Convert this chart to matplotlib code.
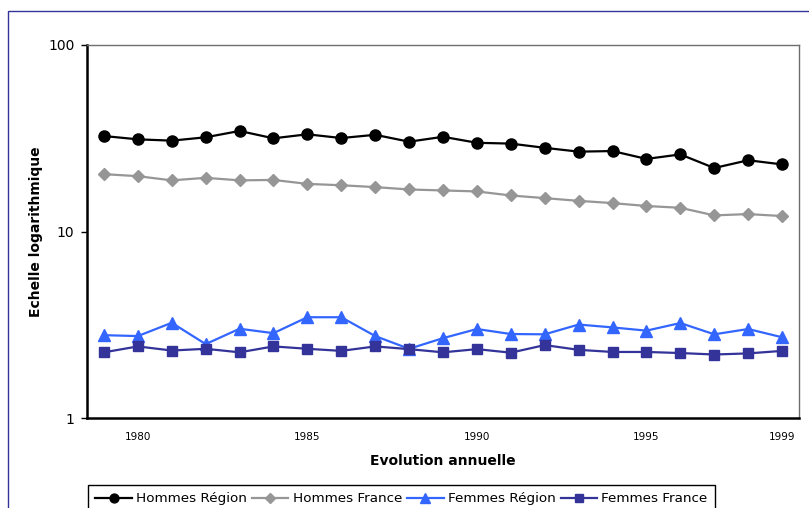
import matplotlib
matplotlib.use("Agg")
import matplotlib.pyplot as plt
from matplotlib.patches import Rectangle

# annual series, log scale
years = list(range(1979, 2000))
hommes_region = [32.5, 31.2, 30.7, 32.0, 34.6, 31.6, 33.2, 31.7, 33.0, 30.3, 32.2,
                 29.9, 29.6, 28.1, 26.8, 27.0, 24.5, 25.9, 21.9, 24.1, 22.9]
hommes_france = [20.3, 19.8, 18.8, 19.4, 18.8, 18.9, 18.0, 17.7, 17.3, 16.8, 16.6,
                 16.4, 15.6, 15.1, 14.6, 14.2, 13.7, 13.4, 12.2, 12.4, 12.1]
femmes_region = [2.78, 2.75, 3.24, 2.49, 3.01, 2.85, 3.47, 3.47, 2.75, 2.35, 2.68,
                 3.00, 2.82, 2.81, 3.17, 3.06, 2.94, 3.23, 2.81, 3.00, 2.71]
femmes_france = [2.25, 2.42, 2.30, 2.35, 2.25, 2.42, 2.35, 2.29, 2.42, 2.34, 2.25,
                 2.34, 2.24, 2.46, 2.32, 2.26, 2.26, 2.23, 2.19, 2.22, 2.29]
xticks = [1980, 1985, 1990, 1995, 1999]

W, H = 809, 508
fig = plt.figure(figsize=(W / 100, H / 100), dpi=100)
ax = fig.add_axes([87 / W, (H - 418) / H, (799 - 87) / W, (418 - 45) / H])

ax.plot(years, hommes_region, color="black", lw=1.6, marker="o", ms=8,
        label="Hommes Région")
ax.plot(years, hommes_france, color="#969696", lw=1.6, marker="D", ms=6,
        label="Hommes France")
ax.plot(years, femmes_region, color="#3366ff", lw=1.6, marker="^", ms=8.5,
        label="Femmes Région")
ax.plot(years, femmes_france, color="#333399", lw=1.6, marker="s", ms=7.5,
        label="Femmes France")

ax.set_yscale("log")
ax.set_ylim(1, 100)
ax.set_xlim(1978.5, 1999.5)
ax.set_yticks([1, 10, 100])
ax.set_yticklabels(["1", "10", "100"])
ax.minorticks_off()
ax.set_xticks(xticks)
ax.set_xticklabels([str(x) for x in xticks])

ax.tick_params(axis="y", direction="out", length=4, width=1, pad=5, labelsize=10)
ax.tick_params(axis="x", length=0, pad=10, labelsize=7.5)

for side in ["left", "bottom"]:
    ax.spines[side].set_color("black")
    ax.spines[side].set_linewidth(1.8)
for side in ["top", "right"]:
    ax.spines[side].set_color("#6e6e6e")
    ax.spines[side].set_linewidth(1)

ax.set_xlabel("Evolution annuelle", fontsize=10, fontweight="bold", labelpad=9)
ax.set_ylabel("Echelle logarithmique", fontsize=10, fontweight="bold", labelpad=4)

# legend sits at the bottom, partly below the page edge
fig.legend(loc="upper left", bbox_to_anchor=(88 / W, (H - 485) / H),
           borderaxespad=0, ncol=4, fontsize=9.7, frameon=True, fancybox=False,
           edgecolor="black", framealpha=1, handlelength=2.7, handletextpad=0.3,
           columnspacing=0.4, borderpad=0.55, markerscale=0.8)

# outer border of the chart area
fig.add_artist(Rectangle((8 / W, -0.1), 1.2, (H - 11) / H + 0.1,
                         transform=fig.transFigure, fill=False,
                         edgecolor="#333399", lw=1))

fig.savefig("out.png", dpi=100)
